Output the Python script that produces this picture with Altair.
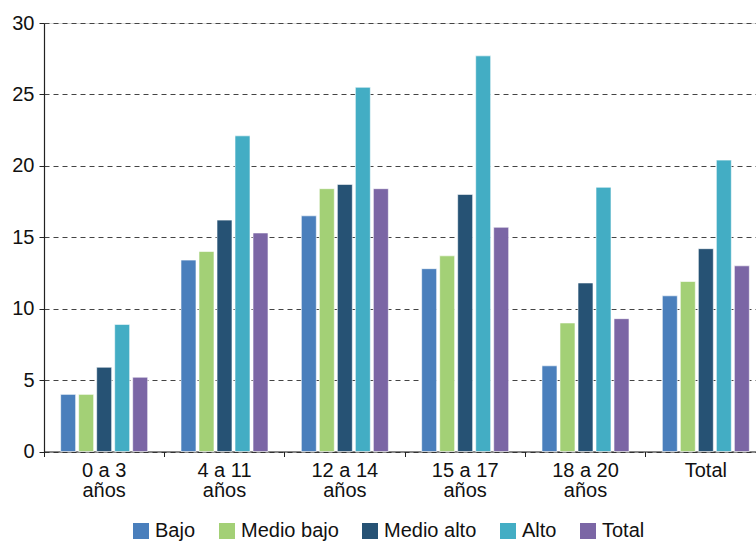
import altair as alt
import pandas as pd

# Age groups (x axis), line break between the range and "años"
groups = ["0 a 3\naños", "4 a 11\naños", "12 a 14\naños", "15 a 17\naños", "18 a 20\naños", "Total"]
levels = ["Bajo", "Medio bajo", "Medio alto", "Alto", "Total"]
colors = ["#4a7fbc", "#a3d076", "#265274", "#43adc4", "#7b66a5"]

# Values per level, one per age group
bajo = [4.0, 13.4, 16.5, 12.8, 6.0, 10.9]
medio_bajo = [4.0, 14.0, 18.4, 13.7, 9.0, 11.9]
medio_alto = [5.9, 16.2, 18.7, 18.0, 11.8, 14.2]
alto = [8.9, 22.1, 25.5, 27.7, 18.5, 20.4]
total = [5.2, 15.3, 18.4, 15.7, 9.3, 13.0]

series = [bajo, medio_bajo, medio_alto, alto, total]
rows = []
for level, vals in zip(levels, series):
    for g, v in zip(groups, vals):
        rows.append({"grupo": g, "nivel": level, "valor": v})
df = pd.DataFrame(rows)

FONT = "Liberation Sans"
FS = 20

chart = (
    alt.Chart(df)
    .mark_bar(stroke="white", strokeWidth=1, strokeOpacity=0.6)
    .encode(
        x=alt.X(
            "grupo:N",
            sort=groups,
            title=None,
            scale=alt.Scale(paddingInner=0, paddingOuter=0, range=[0, 722]),
            axis=alt.Axis(
                labelAngle=0,
                labelExpr="split(datum.label, '\\n')",
                labelLineHeight=20,
                labelFontSize=FS,
                labelFont=FONT,
                labelColor="#111111",
                labelPadding=4,
                tickSize=5,
                tickColor="#222222",
                domainColor="#222222",
                domainWidth=1.2,
                bandPosition=0,
                grid=False,
            ),
        ),
        xOffset=alt.XOffset(
            "nivel:N",
            sort=levels,
            scale=alt.Scale(paddingInner=0.167, paddingOuter=0.925),
        ),
        y=alt.Y(
            "valor:Q",
            title=None,
            scale=alt.Scale(domain=[0, 30], nice=False),
            axis=alt.Axis(
                values=[0, 5, 10, 15, 20, 25, 30],
                labelFontSize=FS,
                labelFont=FONT,
                labelColor="#111111",
                labelPadding=5,
                tickSize=5,
                tickColor="#222222",
                domainColor="#222222",
                domainWidth=1.2,
                grid=True,
                gridDash=[5, 4],
                gridColor="#444444",
                gridWidth=1,
            ),
        ),
        color=alt.Color(
            "nivel:N",
            sort=levels,
            scale=alt.Scale(domain=levels, range=colors),
            legend=alt.Legend(
                title=None,
                orient="none",
                direction="horizontal",
                legendX=87,
                legendY=498,
                symbolType="square",
                symbolSize=256,
                symbolStrokeWidth=0,
                symbolOpacity=1,
                labelFontSize=FS,
                labelFont=FONT,
                labelColor="#111111",
                labelOffset=4,
                columnPadding=21,
            ),
        ),
    )
    .properties(
        width=712,
        height=428.5,
        autosize=alt.AutoSizeParams(type="none"),
        padding={"left": 44, "top": 23, "right": 0, "bottom": 90},
    )
    .configure_view(stroke=None)
    .configure(background="white")
)

chart.save("out.html", embed_options={"renderer": "svg", "actions": False})
